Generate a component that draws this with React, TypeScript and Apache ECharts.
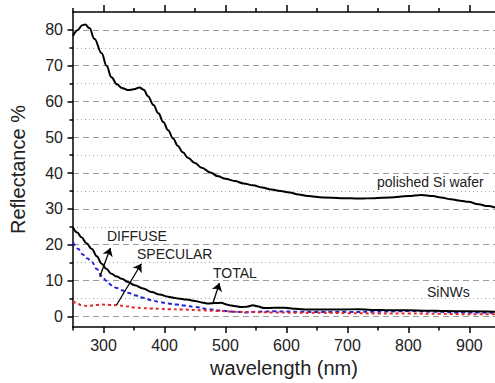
import React, { useEffect, useRef } from "react";
import * as echarts from "echarts";

// ---- Data ----
const waferNm = [250, 258, 265, 270, 277, 285, 297, 305, 313, 322, 330, 340, 350, 359, 366, 373, 382, 390, 398, 406, 414, 422, 430, 439, 450, 461, 475, 488, 500, 515, 530, 545, 560, 575, 590, 605, 620, 635, 660, 690, 720, 744, 770, 800, 821, 840, 853, 870, 885, 898, 915, 930, 942];
const waferR = [78.3, 80, 81.3, 81.5, 80.5, 77.5, 73.5, 70, 66.8, 64.8, 63.8, 63.2, 63.4, 63.9, 63.3, 61.5, 59, 56.7, 54.3, 52, 49.7, 47.6, 45.8, 44.2, 42.8, 41.5, 40.2, 39.1, 38.4, 37.8, 37.1, 36.6, 36, 35.4, 35, 34.6, 34, 33.6, 33.2, 33.0, 32.9, 33.0, 33.2, 33.6, 33.9, 33.6, 33.2, 32.7, 32.3, 32.0, 31.3, 30.8, 30.4];

const totalNm = [250, 257, 264, 272, 281, 289, 297, 305, 313, 322, 330, 340, 351, 365, 379, 392, 406, 415, 422, 436, 450, 461, 472, 483, 493, 502, 510, 518, 526, 535, 545, 552, 564, 580, 597, 615, 635, 660, 690, 717, 740, 770, 799, 830, 860, 900, 942];
const totalR = [24.8, 23.4, 22.1, 20.4, 18.8, 16.8, 14.7, 13.2, 11.9, 11.1, 10.5, 9.6, 8.7, 7.8, 6.8, 6.1, 5.5, 5.2, 5.0, 4.7, 4.3, 3.9, 3.6, 3.7, 3.8, 3.3, 3.0, 2.8, 2.6, 2.7, 3.1, 2.8, 2.3, 2.4, 2.4, 2.1, 1.9, 1.9, 1.9, 2.0, 1.8, 1.7, 1.7, 1.6, 1.5, 1.4, 1.3];

const diffuseNm = [250, 258, 266, 273, 281, 289, 297, 305, 313, 322, 330, 340, 351, 365, 379, 392, 406, 420, 433, 450, 472, 493, 515, 531, 550, 580, 620, 660, 700, 740, 780, 800, 840, 880, 942];
const diffuseR = [20.7, 18.9, 17.3, 16.2, 15.2, 13.2, 11.3, 9.9, 8.7, 7.9, 7.3, 6.6, 5.9, 5.2, 4.5, 4.0, 3.6, 3.3, 3.0, 2.6, 2.0, 1.6, 1.3, 1.1, 1.3, 1.4, 1.3, 1.2, 1.2, 1.3, 1.4, 1.5, 1.3, 1.1, 1.0];

const specularNm = [250, 257, 264, 273, 281, 290, 297, 310, 324, 337, 351, 365, 379, 392, 406, 430, 461, 490, 515, 540, 580, 620, 660, 700, 750, 800, 850, 900, 942];
const specularR = [4.2, 3.6, 3.1, 2.9, 3.0, 3.2, 3.3, 3.2, 3.1, 2.8, 2.5, 2.3, 2.2, 2.1, 2.0, 1.9, 1.7, 1.5, 1.3, 1.2, 1.1, 1.0, 1.0, 0.9, 0.8, 0.8, 0.7, 0.6, 0.6];

const xMajorTicks = [300, 400, 500, 600, 700, 800, 900];
const xMinorTicks = [250, 350, 450, 550, 650, 750, 850];
const yMajorTicks = [0, 10, 20, 30, 40, 50, 60, 70, 80];
const yMinorTicks = [5, 15, 25, 35, 45, 55, 65, 75];

// annotation arrows: [fromNm, fromR, toNm, toR]
const arrowDiffuse = [293.8, 11.0, 311.3, 19.1];
const arrowSpecular = [321.2, 3.1, 362, 14.7];
const arrowTotal = [479.3, 3.6, 490.1, 9.3];

const FONT = "'Liberation Sans', Arial, sans-serif";
const X_MIN = 250;
const X_MAX = 942;
const Y_MIN = -3;
const Y_MAX = 85;

const pairs = (xs: number[], ys: number[]) => xs.map((x, i) => [x, ys[i]]);
const arrow = (a: number[]) => [{ coord: [a[0], a[1]] }, { coord: [a[2], a[3]] }];

export default function App() {
  const ref = useRef<HTMLDivElement>(null);

  useEffect(() => {
    if (!ref.current) return;
    const chart = echarts.init(ref.current, undefined, { renderer: "svg" });

    const axisLineStyle = { color: "#000", width: 1.5 };
    const labelStyle = { fontFamily: FONT, fontSize: 16, color: "#222" };

    const option: any = {
      animation: false,
      backgroundColor: "#fff",
      grid: { left: 72, right: 0, top: 12, bottom: 54, containLabel: false },
      xAxis: [
        {
          type: "value", position: "bottom", min: X_MIN, max: X_MAX,
          axisLine: { show: true, onZero: false, lineStyle: axisLineStyle },
          axisTick: { show: true, inside: false, length: 6, customValues: xMajorTicks, lineStyle: axisLineStyle },
          axisLabel: { show: true, customValues: xMajorTicks, margin: 10, ...labelStyle },
          splitLine: { show: false },
          name: "wavelength (nm)", nameLocation: "middle", nameGap: 29,
          nameTextStyle: { fontFamily: FONT, fontSize: 20, color: "#222" },
        },
        {
          type: "value", position: "bottom", min: X_MIN, max: X_MAX,
          axisLine: { show: false, onZero: false },
          axisTick: { show: true, inside: false, length: 3.5, customValues: xMinorTicks, lineStyle: axisLineStyle },
          axisLabel: { show: false },
          splitLine: { show: false },
        },
        {
          type: "value", position: "top", min: X_MIN, max: X_MAX,
          axisLine: { show: true, onZero: false, lineStyle: axisLineStyle },
          axisTick: { show: true, inside: false, length: 7, customValues: xMajorTicks, lineStyle: axisLineStyle },
          axisLabel: { show: false },
          splitLine: { show: false },
        },
        {
          type: "value", position: "top", min: X_MIN, max: X_MAX,
          axisLine: { show: false, onZero: false },
          axisTick: { show: true, inside: false, length: 4, customValues: xMinorTicks, lineStyle: axisLineStyle },
          axisLabel: { show: false },
          splitLine: { show: false },
        },
      ],
      yAxis: [
        {
          type: "value", position: "left", min: Y_MIN, max: Y_MAX,
          axisLine: { show: true, onZero: false, lineStyle: axisLineStyle },
          axisTick: { show: true, inside: false, length: 5.5, customValues: yMajorTicks, lineStyle: axisLineStyle },
          axisLabel: { show: true, customValues: yMajorTicks, margin: 10, ...labelStyle },
          splitLine: { show: true, lineStyle: { color: "#9c9c9c", width: 1, type: [6, 4] } },
          name: "Reflectance %", nameLocation: "middle", nameGap: 45,
          nameTextStyle: { fontFamily: FONT, fontSize: 20, color: "#222" },
        },
        {
          type: "value", position: "left", min: Y_MIN, max: Y_MAX,
          axisLine: { show: false, onZero: false },
          axisTick: { show: true, inside: false, length: 3.5, customValues: yMinorTicks, lineStyle: axisLineStyle },
          axisLabel: { show: false },
          splitLine: { show: true, lineStyle: { color: "#a8a8a8", width: 1, type: [1, 3] } },
        },
      ],
      series: [
        {
          name: "polished Si wafer", type: "line", xAxisIndex: 0, yAxisIndex: 0,
          data: pairs(waferNm, waferR), showSymbol: false, smooth: 0.4, smoothMonotone: "x",
          lineStyle: { color: "#000", width: 2 }, z: 5,
        },
        {
          name: "TOTAL", type: "line", xAxisIndex: 0, yAxisIndex: 0,
          data: pairs(totalNm, totalR), showSymbol: false, smooth: 0.4, smoothMonotone: "x",
          lineStyle: { color: "#000", width: 2 }, z: 4,
          markLine: {
            silent: true, symbol: ["none", "arrow"], symbolSize: 8, animation: false,
            label: { show: false },
            lineStyle: { color: "#000", width: 1.3, type: "solid" },
            data: [arrow(arrowDiffuse), arrow(arrowSpecular), arrow(arrowTotal)],
          },
        },
        {
          name: "DIFFUSE", type: "line", xAxisIndex: 0, yAxisIndex: 0,
          data: pairs(diffuseNm, diffuseR), showSymbol: false, smooth: 0.4, smoothMonotone: "x",
          lineStyle: { color: "#2424d8", width: 2, type: [4, 3] }, z: 3,
        },
        {
          name: "SPECULAR", type: "line", xAxisIndex: 0, yAxisIndex: 0,
          data: pairs(specularNm, specularR), showSymbol: false, smooth: 0.4, smoothMonotone: "x",
          lineStyle: { color: "#e02a2a", width: 2, type: [3, 3] }, z: 3,
        },
      ],
      graphic: [
        { type: "text", x: 107, y: 236, style: { text: "DIFFUSE", fill: "#222", font: `14px ${FONT}`, verticalAlign: "middle" } },
        { type: "text", x: 137, y: 254, style: { text: "SPECULAR", fill: "#222", font: `14px ${FONT}`, verticalAlign: "middle" } },
        { type: "text", x: 213, y: 273, style: { text: "TOTAL", fill: "#222", font: `14px ${FONT}`, verticalAlign: "middle" } },
        { type: "text", x: 427, y: 292, style: { text: "SiNWs", fill: "#222", font: `14px ${FONT}`, verticalAlign: "middle" } },
        { type: "text", x: 377, y: 182, style: { text: "polished Si wafer", fill: "#222", font: `14px ${FONT}`, verticalAlign: "middle" } },
      ],
    };

    chart.setOption(option);
    return () => chart.dispose();
  }, []);

  return (
    <div
      ref={ref}
      style={{ position: "fixed", left: 0, top: 0, width: 495, height: 383, background: "#fff" }}
    />
  );
}
